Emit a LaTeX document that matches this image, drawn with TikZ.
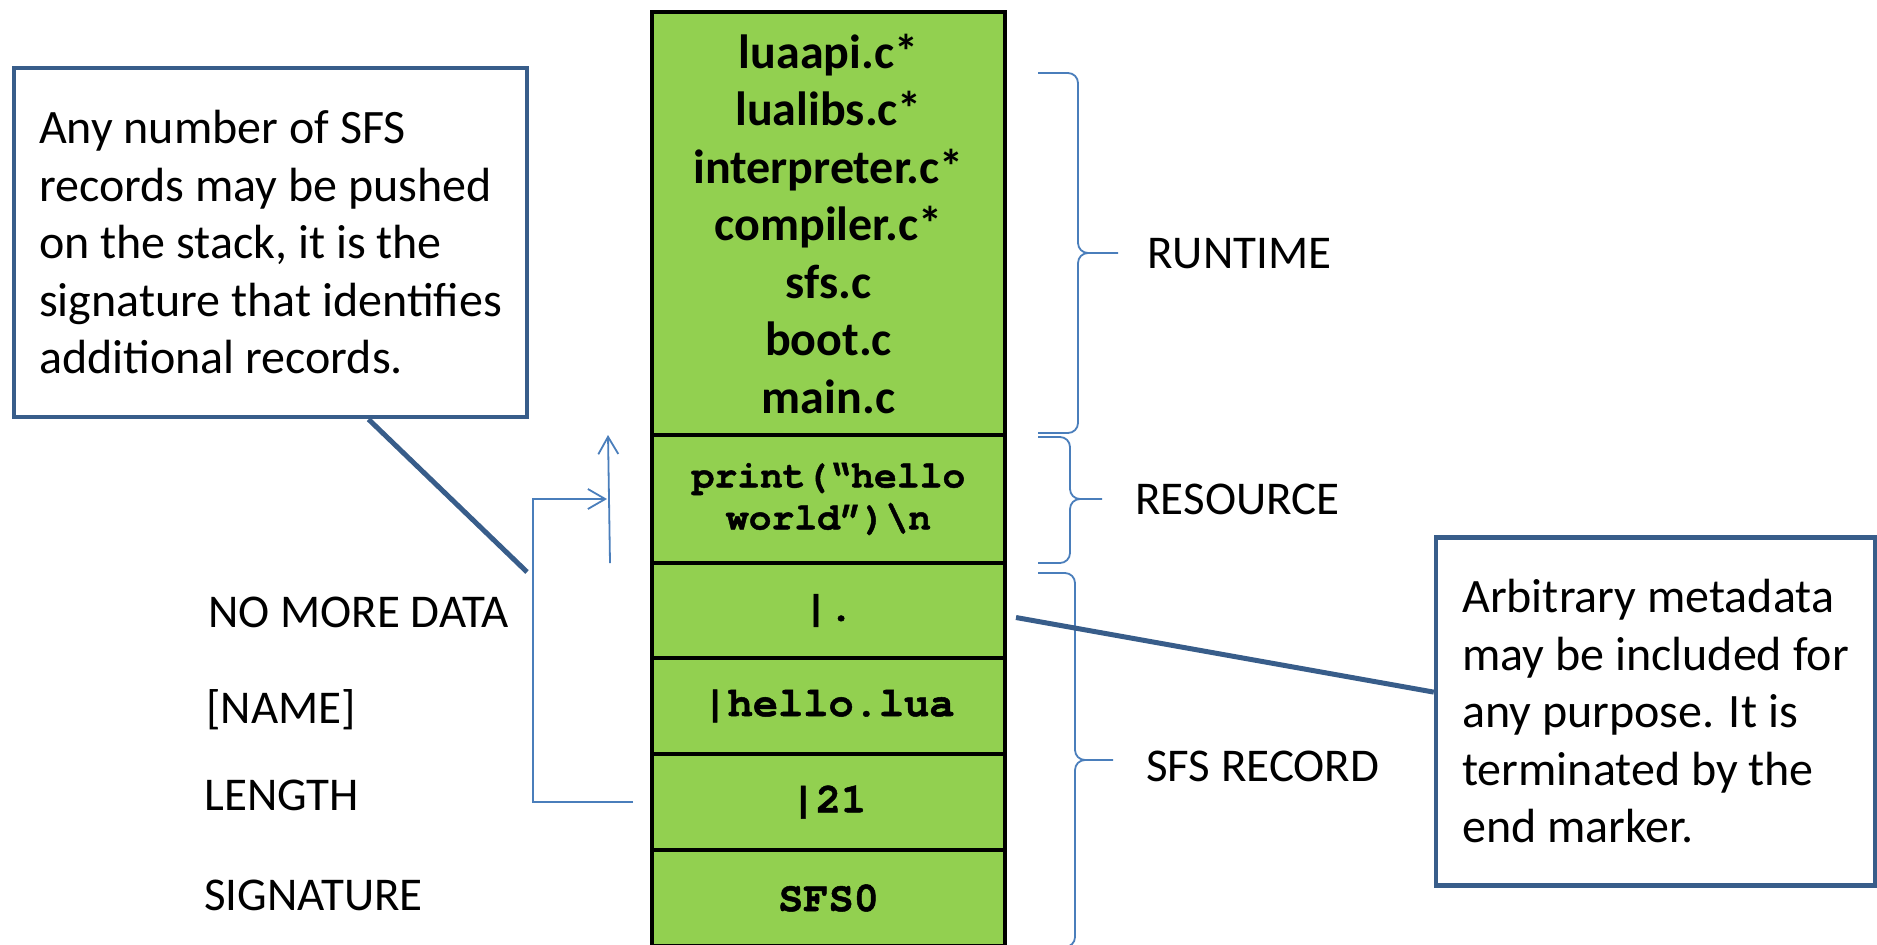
\documentclass[tikz,border=0pt]{standalone}
\usepackage{fontspec}
\setmainfont{Carlito}
\newfontfamily\codefont{texgyrecursor}[Extension=.otf,UprightFont=*-regular,
  BoldFont=*-bold,BoldFeatures={FakeBold=1.2}]
\usepackage{tikz}
\usetikzlibrary{arrows.meta,positioning}
\usepackage{xcolor}
\definecolor{cellgreen}{HTML}{92D050}
\definecolor{noteblue}{HTML}{385D8A}
\definecolor{linkblue}{HTML}{4A7EBB}

\begin{document}
\begin{tikzpicture}[x=0.5pt,y=-0.5pt,>={Straight Barb[angle=60:10pt]},
                    node distance=0pt]
  \tikzstyle{cell}=[draw=black,line width=2pt,fill=cellgreen,outer sep=0pt,
                    inner sep=0pt,minimum width=176.5pt,align=center]
  \tikzstyle{code}=[cell,minimum height=48pt,
                    font=\codefont\bfseries\fontsize{21}{24}\selectfont]
  \tikzstyle{note}=[draw=noteblue,line width=2.25pt,align=left,inner sep=0pt,
                    font=\fontsize{24}{28.75}\selectfont]
  \tikzstyle{field}=[inner sep=0pt,anchor=west,text height=15pt,text depth=0pt,
                     font=\fontsize{23.5}{28}\selectfont]
  \tikzstyle{part}=[field]
  \tikzstyle{brace line}=[draw=linkblue,line width=0.9pt,rounded corners=5pt]
  \tikzstyle{link}=[draw=linkblue,line width=0.9pt]
  \tikzstyle{pointer}=[draw=noteblue,line width=2.5pt]

  \useasboundingbox (0,0) rectangle (1877,944);

  % the stack, top to bottom
  \node[cell,minimum height=211.5pt,font=\bfseries\fontsize{24}{28.75}\selectfont]
        (run) at (828.5,223.5)
        {luaapi.c*\\lualibs.c*\\interpreter.c*\\compiler.c*\\sfs.c\\boot.c\\main.c};
  \node[cell,minimum height=64pt,font=\codefont\bfseries\fontsize{19}{21}\selectfont]
        (res)  [below=of run]  {print(“hello\\world”)\textbackslash n};
  \node[code,minimum height=47.5pt]
        (mark) [below=of res]  {|.};
  \node[code] (name) [below=of mark] {|hello.lua};
  \node[code] (len)  [below=of name] {|21};
  \node[code] (sig)  [below=of len]  {SFS0};

  \node[field] (nomore) at ([xshift=-222pt,yshift=-0.75pt]mark.west) {NO MORE DATA};
  \node[field] (fname)  at ([xshift=-223pt,yshift=-1pt]name.west)    {[NAME]};
  \node[field] (flen)   at ([xshift=-224pt,yshift=3.5pt]len.west)    {LENGTH};
  \node[field] (fsig)   at ([xshift=-224pt,yshift=1.5pt]sig.west)    {SIGNATURE};

  % braces on the right
  \draw[brace line] (1038,73) -- (1078,73) -- (1078,253) -- (1118,253) coordinate (rtpt)
                    (1038,433) -- (1078,433) -- (1078,253) -- (1118,253);
  \draw[brace line] (1038,437) -- (1070,437) -- (1070,499) -- (1102,499) coordinate (rspt)
                    (1038,563) -- (1070,563) -- (1070,499) -- (1102,499);
  \draw[brace line] (1038,573) -- (1075,573) -- (1075,760) -- (1113,760) coordinate (sfpt)
                    (1038,947) -- (1075,947) -- (1075,760) -- (1113,760);

  \node[part] (rtlab) [right=14.5pt of rtpt]          {RUNTIME};
  \node[part] (rslab) [right=16.5pt of rspt]          {RESOURCE};
  \node[part] (sflab) [right=16.5pt of sfpt,yshift=-3pt] {SFS RECORD};

  \draw[link,->] ([xshift=-9.5pt]len.west) -- ++(-50pt,0) |- ([xshift=-22.5pt]res.west);
  \draw[link,->] ([xshift=-21pt]res.south west) -- ([xshift=-22pt]res.north west);

  % callouts
  \node[note,minimum width=256.5pt,minimum height=174.5pt] (lnote) at (270.5,242.5)
        {Any number of SFS\\records may be pushed\\on the stack, it is the\\signature that identifies\\additional records.};
  \node[note,minimum width=219.5pt,minimum height=174pt] (rnote) at (1655.5,711.5)
        {Arbitrary metadata\\may be included for\\any purpose. It is\\terminated by the\\end marker.};

  \coordinate (ltail) at ([xshift=-62.5pt,yshift=-4.5pt]mark.north west);
  \coordinate (rtail) at ([xshift=5.5pt,yshift=-3.5pt]mark.east);
  \draw[pointer] (lnote.-61.6) -- (ltail);
  \draw[pointer] (rnote.175.7) -- (rtail);
\end{tikzpicture}
\end{document}
